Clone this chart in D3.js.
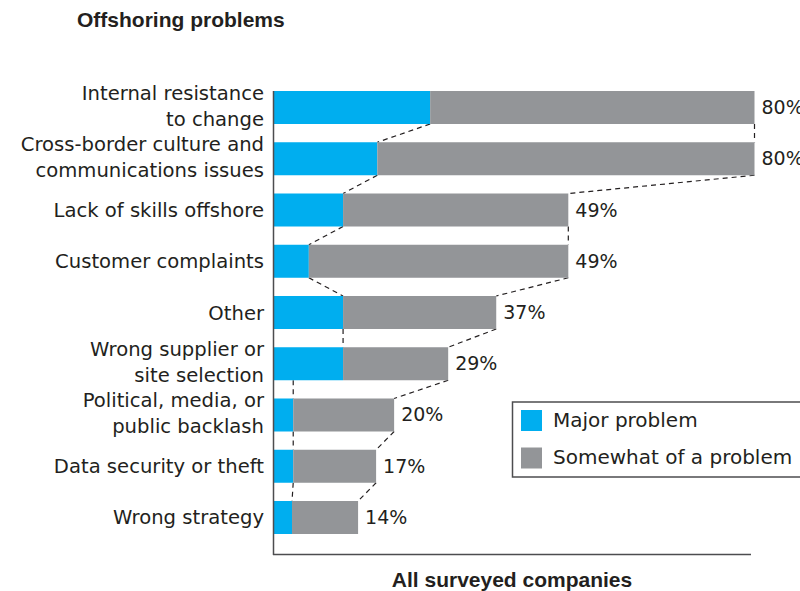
<!DOCTYPE html>
<html>
<head>
<meta charset="utf-8">
<script src="https://cdn.jsdelivr.net/npm/d3@7/dist/d3.min.js"></script>
<style>
  html, body { margin: 0; padding: 0; background: #fff; overflow: hidden; }
  svg { display: block; }
</style>
</head>
<body>
<svg id="chart" width="800" height="591"></svg>
<script>
// ---- data ----
const categories = [
  "Internal resistance\nto change",
  "Cross-border culture and\ncommunications issues",
  "Lack of skills offshore",
  "Customer complaints",
  "Other",
  "Wrong supplier or\nsite selection",
  "Political, media, or\npublic backlash",
  "Data security or theft",
  "Wrong strategy"
];
const majorValues    = [26, 17.2, 11.5, 5.8, 11.5, 11.5, 3.2, 3.2, 3.0];
const somewhatValues = [54, 62.8, 37.5, 43.2, 25.5, 17.5, 16.8, 13.8, 11.0];
const totalLabels    = ["80%", "80%", "49%", "49%", "37%", "29%", "20%", "17%", "14%"];
// start value (on upper bar) of each dashed "major" connector to the next bar
const majorLinkStart = [26, 17.2, 11.5, 5.8, 11.5, 3.2, 3.2, 3.2];
const seriesNames = ["Major problem", "Somewhat of a problem"];
const seriesColors = ["#00aeef", "#939598"];
const title = "Offshoring problems";
const xTitle = "All surveyed companies";

// ---- layout ----
const svg = d3.select("#chart");
const textColor = "#231f20";
const labelFont = "DejaVu Sans, Verdana, sans-serif";
const boldFont = "Liberation Sans, Arial, Helvetica, sans-serif";

const x = d3.scaleLinear().domain([0, 80]).range([274, 754.5]);
const y = d3.scaleBand().domain(categories).range([91, 534]).paddingInner(0.356).paddingOuter(0);
const bw = y.bandwidth();

const rows = categories.map((c, i) => ({
  cat: c, major: majorValues[i], somewhat: somewhatValues[i],
  total: majorValues[i] + somewhatValues[i], label: totalLabels[i]
}));

// title
svg.append("text").attr("x", 77).attr("y", 27)
  .attr("font-family", boldFont).attr("font-weight", "bold").attr("font-size", 21)
  .attr("fill", textColor).text(title);

// dashed connectors
const links = svg.append("g").attr("stroke", textColor).attr("stroke-width", 1.2)
  .attr("stroke-dasharray", "5,4").attr("fill", "none");
for (let i = 0; i < rows.length - 1; i++) {
  const y0 = y(rows[i].cat) + bw, y1 = y(rows[i + 1].cat);
  links.append("line")
    .attr("x1", x(majorLinkStart[i])).attr("y1", y0)
    .attr("x2", x(rows[i + 1].major)).attr("y2", y1);
  links.append("line")
    .attr("x1", x(rows[i].total)).attr("y1", y0)
    .attr("x2", x(rows[i + 1].total)).attr("y2", y1);
}

// bars
const stack = d3.stack().keys(["major", "somewhat"])(rows);
svg.append("g").selectAll("g").data(stack).join("g")
  .attr("fill", (d, i) => seriesColors[i])
  .selectAll("rect").data(d => d).join("rect")
  .attr("x", d => x(d[0]))
  .attr("y", d => y(d.data.cat))
  .attr("width", d => x(d[1]) - x(d[0]))
  .attr("height", bw);

// value labels
svg.append("g").selectAll("text").data(rows).join("text")
  .attr("x", d => x(d.total) + 7)
  .attr("y", d => y(d.cat) + bw / 2 + 6.5)
  .attr("font-family", labelFont).attr("font-size", 19)
  .attr("fill", textColor).text(d => d.label);

// category labels
const lab = svg.append("g").selectAll("text").data(rows).join("text")
  .attr("text-anchor", "end")
  .attr("font-family", labelFont).attr("font-size", 19.6)
  .attr("fill", textColor);
lab.each(function (d) {
  const lines = d.cat.split("\n");
  const c = y(d.cat) + bw / 2;
  const t = d3.select(this);
  if (lines.length === 1) {
    t.append("tspan").attr("x", 264).attr("y", c + 7).text(lines[0]);
  } else {
    t.append("tspan").attr("x", 264).attr("y", c - 8).text(lines[0]);
    t.append("tspan").attr("x", 264).attr("y", c + 18).text(lines[1]);
  }
});

// axes lines
svg.append("line").attr("x1", 273.5).attr("x2", 273.5).attr("y1", 91).attr("y2", 555)
  .attr("stroke", "#4d4d4f").attr("stroke-width", 1.5);
svg.append("line").attr("x1", 273).attr("x2", 751).attr("y1", 554.5).attr("y2", 554.5)
  .attr("stroke", "#4d4d4f").attr("stroke-width", 1.5);

// x title
svg.append("text").attr("x", 512).attr("y", 587).attr("text-anchor", "middle")
  .attr("font-family", boldFont).attr("font-weight", "bold").attr("font-size", 21)
  .attr("fill", textColor).text(xTitle);

// legend
const lg = svg.append("g");
lg.append("rect").attr("x", 512.5).attr("y", 402).attr("width", 300).attr("height", 75)
  .attr("fill", "#fff").attr("stroke", "#4d4d4f").attr("stroke-width", 1.5);
seriesNames.forEach((n, i) => {
  lg.append("rect").attr("x", 521).attr("y", 410 + i * 37.5).attr("width", 21).attr("height", 21)
    .attr("fill", seriesColors[i]);
  lg.append("text").attr("x", 553).attr("y", 427 + i * 36.5)
    .attr("font-family", labelFont).attr("font-size", 20)
    .attr("fill", textColor).text(n);
});
</script>
</body>
</html>
